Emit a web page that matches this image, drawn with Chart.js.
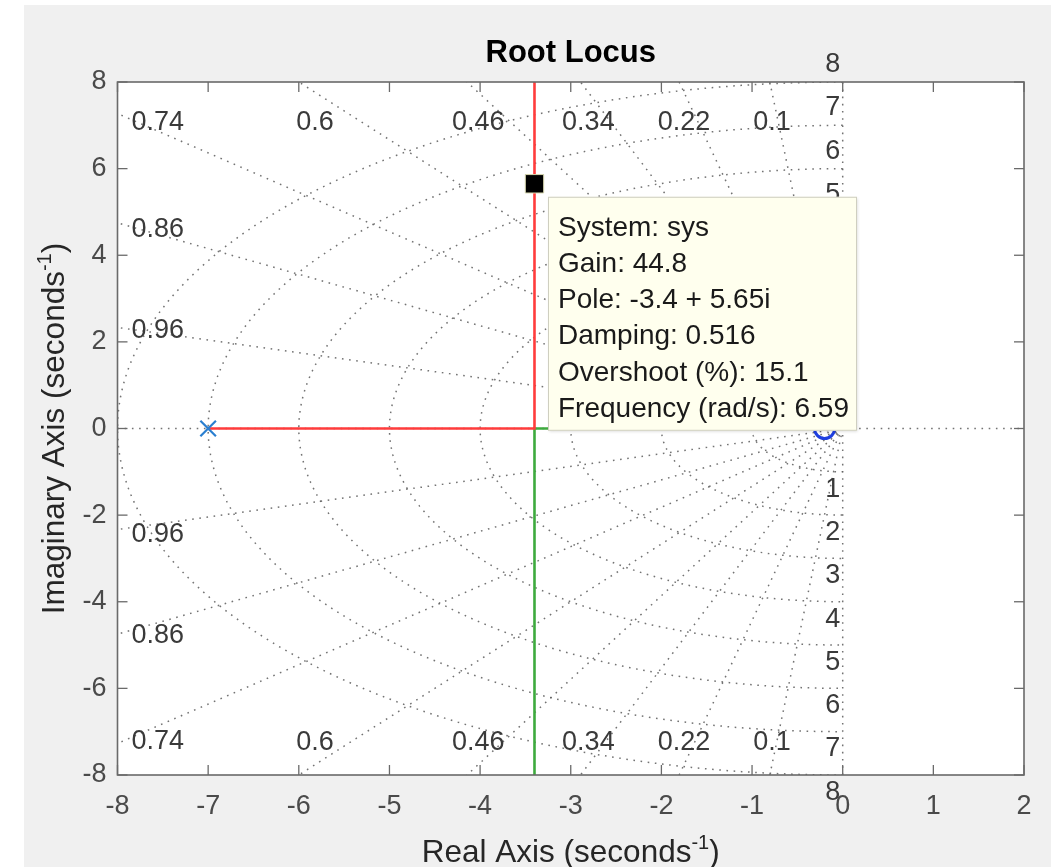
<!DOCTYPE html>
<html><head><meta charset="utf-8">
<script src="https://cdn.jsdelivr.net/npm/chart.js@4.4.1/dist/chart.umd.min.js"></script>
<style>
html,body{margin:0;padding:0;background:#fff;overflow:hidden;}
canvas{display:block;}
</style></head><body>
<canvas id="c" width="1051" height="867"></canvas>
<script>
// ---- data ----
const xTicks = [-8,-7,-6,-5,-4,-3,-2,-1,0,1,2];
const yTicks = [-8,-6,-4,-2,0,2,4,6,8];
const dampingValues = [0.1,0.22,0.34,0.46,0.6,0.74,0.86,0.96];
const freqValues = [1,2,3,4,5,6,7,8];
const openLoopPoles = [-7, -0.2];
const breakawayPoint = -3.4;
const selectedPole = {re:-3.4, im:5.65};
const tipLines = ["System: sys","Gain: 44.8","Pole: -3.4 + 5.65i","Damping: 0.516","Overshoot (%): 15.1","Frequency (rad/s): 6.59"];
const chartTitle = "Root Locus";

const FONT = "'Liberation Sans', Arial, Helvetica, sans-serif";
const X_MIN=-8, X_MAX=2, Y_MIN=-8, Y_MAX=8;

// ---- grid geometry from damping / frequency values ----
const gridStyle = {borderColor:'rgba(90,90,90,0.85)', borderWidth:1.5, borderDash:[1.6,5.6], pointRadius:0, showLine:true, order:10, fill:false, tension:0};
const datasets = [];
freqValues.forEach(wn=>{
  const pts=[];
  for(let k=0;k<=180;k++){const a=Math.PI/2+Math.PI*k/180; pts.push({x:wn*Math.cos(a), y:wn*Math.sin(a)});}
  datasets.push(Object.assign({data:pts}, gridStyle));
});
dampingValues.forEach(z=>{
  const s=Math.sqrt(1-z*z), R=30;
  datasets.push(Object.assign({data:[{x:0,y:0},{x:-R*z,y:R*s}]}, gridStyle));
  datasets.push(Object.assign({data:[{x:0,y:0},{x:-R*z,y:-R*s}]}, gridStyle));
});
datasets.push(Object.assign({data:[{x:X_MIN,y:0},{x:X_MAX,y:0}]}, gridStyle));
datasets.push(Object.assign({data:[{x:0,y:Y_MIN},{x:0,y:Y_MAX}]}, gridStyle));

// ---- root locus branches ----
datasets.push({data:[{x:openLoopPoles[0],y:0},{x:breakawayPoint,y:0},{x:breakawayPoint,y:40}], borderColor:'#ff3c3c', borderWidth:2.6, pointRadius:0, showLine:true, order:3});
datasets.push({data:[{x:openLoopPoles[1],y:0},{x:breakawayPoint,y:0},{x:breakawayPoint,y:-40}], borderColor:'#3eaa3e', borderWidth:2.6, pointRadius:0, showLine:true, order:3});
datasets.push({data:[{x:openLoopPoles[0],y:0}], pointStyle:'crossRot', pointRadius:11, borderColor:'#2a7fd0', borderWidth:2.2, showLine:false, order:2});
datasets.push({data:[{x:openLoopPoles[1],y:0}], pointStyle:'circle', pointRadius:10, backgroundColor:'rgba(0,0,0,0)', borderColor:'#1f3fe0', borderWidth:3, showLine:false, order:2});
datasets.push({data:[{x:selectedPole.re,y:selectedPole.im}], pointStyle:'rect', pointRadius:13, backgroundColor:'#000', borderColor:'#d8d8b0', borderWidth:1, showLine:false, order:1});

// ---- plugins ----
const bgPlugin = {id:'bg', beforeDraw(chart){
  const ctx=chart.ctx, a=chart.chartArea; ctx.save();
  ctx.fillStyle='#fff'; ctx.fillRect(0,0,chart.width,chart.height);
  ctx.fillStyle='#f0f0f0'; ctx.fillRect(24,5,chart.width-24,chart.height-5);
  ctx.fillStyle='#fff'; ctx.fillRect(a.left,a.top,a.right-a.left,a.bottom-a.top);
  ctx.fillStyle='#000'; ctx.font='bold 31px '+FONT; ctx.textAlign='center'; ctx.textBaseline='alphabetic';
  ctx.fillText(chartTitle,(a.left+a.right)/2,62);
  ctx.restore();
}};

function line(ctx,x1,y1,x2,y2){ctx.beginPath();ctx.moveTo(x1,y1);ctx.lineTo(x2,y2);ctx.stroke();}

const overlayPlugin = {id:'overlay', afterDatasetsDraw(chart){
  const ctx=chart.ctx, a=chart.chartArea, xs=chart.scales.x, ys=chart.scales.y;
  ctx.save();
  // frame + inner ticks
  ctx.strokeStyle='#6a6a6a'; ctx.lineWidth=1.6;
  ctx.strokeRect(a.left,a.top,a.right-a.left,a.bottom-a.top);
  ctx.lineWidth=1.3;
  xTicks.forEach(v=>{const p=xs.getPixelForValue(v); line(ctx,p,a.top,p,a.top+10); line(ctx,p,a.bottom,p,a.bottom-10);});
  yTicks.forEach(v=>{const p=ys.getPixelForValue(v); line(ctx,a.left,p,a.left+10,p); line(ctx,a.right,p,a.right-10,p);});

  // damping labels
  ctx.font='27px '+FONT; ctx.fillStyle='#3a3a3a'; ctx.textBaseline='middle';
  const m=0.97;
  dampingValues.forEach(z=>{
    const t=Math.sqrt(1-z*z)/z;
    const txt=String(z);
    if (-X_MIN*t >= Y_MAX) { // ray leaves through top/bottom edge
      const xp=xs.getPixelForValue(-m*Y_MAX/t);
      const yTop=ys.getPixelForValue(m*Y_MAX)+30;
      const yBot=ys.getPixelForValue(-m*Y_MAX)-30+8;
      ctx.textAlign='center';
      ctx.fillText(txt,xp,yTop); ctx.fillText(txt,xp,yBot);
    } else { // leaves through left edge
      const xp=a.left+14;
      ctx.textAlign='left';
      ctx.fillText(txt,xp,ys.getPixelForValue(-m*X_MIN*t));
      ctx.fillText(txt,xp,ys.getPixelForValue(m*X_MIN*t)+8);
    }
  });
  // natural frequency labels
  ctx.textAlign='center';
  const x0=xs.getPixelForValue(0)-10;
  freqValues.forEach(wn=>{
    ctx.fillText(String(wn),x0,ys.getPixelForValue(wn+0.4));
    ctx.fillText(String(wn),x0,ys.getPixelForValue(-(wn+0.4)));
  });

  // data tip
  const px=xs.getPixelForValue(selectedPole.re), py=ys.getPixelForValue(selectedPole.im);
  const bx=px+13.5, by=py+13, bw=309, bh=234;
  ctx.shadowColor='rgba(0,0,0,0.15)'; ctx.shadowBlur=3; ctx.shadowOffsetX=1; ctx.shadowOffsetY=1;
  ctx.fillStyle='#ffffee'; ctx.fillRect(bx,by,bw,bh);
  ctx.shadowColor='transparent';
  ctx.strokeStyle='#cfcfc0'; ctx.lineWidth=1; ctx.strokeRect(bx+0.5,by+0.5,bw-1,bh-1);
  ctx.fillStyle='#1a1a1a'; ctx.font='28px '+FONT; ctx.textAlign='left'; ctx.textBaseline='middle';
  tipLines.forEach((s,i)=>ctx.fillText(s,bx+10,by+31+i*36.3));

  // axis titles with superscript
  ctx.fillStyle='#262626'; ctx.textBaseline='alphabetic';
  function drawSup(main,sup,close,cx,base){
    ctx.font='31.5px '+FONT; const w1=ctx.measureText(main).width, w3=ctx.measureText(close).width;
    ctx.font='20px '+FONT; const w2=ctx.measureText(sup).width;
    let x=cx-(w1+w2+w3)/2;
    ctx.textAlign='left';
    ctx.font='31.5px '+FONT; ctx.fillText(main,x,base); x+=w1;
    ctx.font='20px '+FONT; ctx.fillText(sup,x,base-13); x+=w2;
    ctx.font='31.5px '+FONT; ctx.fillText(close,x,base);
  }
  drawSup('Real Axis (seconds','-1',')',(a.left+a.right)/2,861.5);
  ctx.save(); ctx.translate(64,(a.top+a.bottom)/2); ctx.rotate(-Math.PI/2);
  drawSup('Imaginary Axis (seconds','-1',')',0,0);
  ctx.restore();
  ctx.restore();
}};

const tickFont = {family:FONT, size:27};
new Chart(document.getElementById('c'), {
  type:'scatter',
  data:{datasets},
  options:{
    responsive:false, animation:false, events:[],
    layout:{padding:{left:0,right:27,top:82,bottom:0}},
    plugins:{ legend:{display:false}, tooltip:{enabled:false}, title:{display:false} },
    scales:{
      x:{type:'linear', min:X_MIN, max:X_MAX,
         afterBuildTicks:s=>{s.ticks=xTicks.map(v=>({value:v}));},
         afterFit:s=>{s.height=92;},
         grid:{display:false, drawTicks:false}, border:{display:false},
         ticks:{font:tickFont, color:'#4a4a4a', padding:15, maxRotation:0, autoSkip:false}},
      y:{type:'linear', min:Y_MIN, max:Y_MAX,
         afterBuildTicks:s=>{s.ticks=yTicks.map(v=>({value:v}));},
         afterFit:s=>{s.width=117.5;},
         grid:{display:false, drawTicks:false}, border:{display:false},
         ticks:{font:tickFont, color:'#4a4a4a', padding:11, autoSkip:false}}
    }
  },
  plugins:[bgPlugin, overlayPlugin]
});
</script>
</body></html>
